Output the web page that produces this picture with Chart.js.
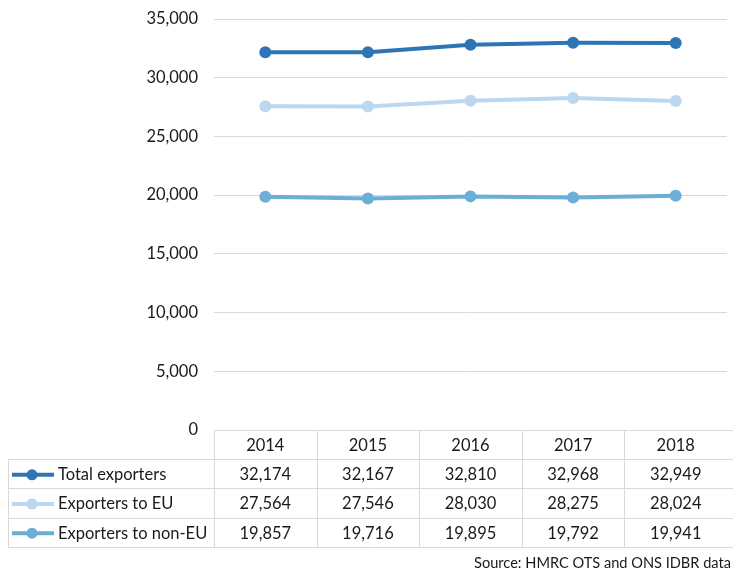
<!DOCTYPE html>
<html lang="en">
<head>
<meta charset="UTF-8">
<title>Exporters</title>
<script src="https://cdn.jsdelivr.net/npm/chart.js"></script>
<style>
  body { margin: 0; background: #fff; }
  #wrap { width: 733px; height: 569px; position: relative; }
</style>
</head>
<body>
<div id="wrap"><canvas id="chart"></canvas></div>
<script>
const years = ['2014', '2015', '2016', '2017', '2018'];
const totalExporters = [32174, 32167, 32810, 32968, 32949];
const euExporters = [27564, 27546, 28030, 28275, 28024];
const nonEuExporters = [19857, 19716, 19895, 19792, 19941];
const seriesNames = ['Total exporters', 'Exporters to EU', 'Exporters to non-EU'];
const sourceNote = 'Source: HMRC OTS and ONS IDBR data';

const colours = ['#2e75b6', '#bdd7ee', '#6baed6'];
const FONT = 'Lato, "Open Sans", sans-serif';
const TEXT = '#1a1a1a';
const fmt = v => v.toLocaleString('en-US');

// draws the data table under the plot, lined up with the x scale
const dataTable = {
  id: 'dataTable',
  afterDraw(chart) {
    const ctx = chart.ctx;
    const x = chart.scales.x;
    const area = chart.chartArea;
    const half = (x.getPixelForValue(1) - x.getPixelForValue(0)) / 2;
    const rowH = 29.2;
    const top = area.bottom;
    const left = 8;
    const right = chart.width;
    ctx.save();
    ctx.strokeStyle = '#d9d9d9';
    ctx.lineWidth = 1;

    // horizontal lines
    ctx.beginPath();
    ctx.moveTo(area.left, top + 0.5); ctx.lineTo(right, top + 0.5);
    for (let r = 1; r <= 4; r++) {
      const y = Math.round(top + r * rowH) + 0.5;
      ctx.moveTo(left, y); ctx.lineTo(right, y);
    }
    // vertical lines
    ctx.moveTo(left + 0.5, Math.round(top + rowH)); ctx.lineTo(left + 0.5, Math.round(top + 4 * rowH));
    for (let i = 0; i < years.length; i++) {
      const xl = Math.round(x.getPixelForValue(i) - half) + 0.5;
      ctx.moveTo(xl, top); ctx.lineTo(xl, Math.round(top + 4 * rowH));
    }
    ctx.stroke();

    ctx.fillStyle = TEXT;
    ctx.font = '16.5px ' + FONT;
    ctx.textBaseline = 'middle';
    ctx.textAlign = 'center';
    years.forEach((yr, i) => {
      ctx.fillText(yr, x.getPixelForValue(i), top + rowH / 2 + 1);
    });

    chart.data.datasets.forEach((ds, r) => {
      const cy = top + (r + 1.5) * rowH + 1;
      // legend key
      ctx.strokeStyle = ds.borderColor;
      ctx.lineWidth = 4;
      ctx.beginPath();
      ctx.moveTo(12, cy); ctx.lineTo(54, cy);
      ctx.stroke();
      ctx.fillStyle = ds.borderColor;
      ctx.beginPath();
      ctx.arc(32, cy, 5.5, 0, Math.PI * 2);
      ctx.fill();

      ctx.fillStyle = TEXT;
      ctx.textAlign = 'left';
      ctx.fillText(ds.label, 58, cy);
      ctx.textAlign = 'center';
      ds.data.forEach((v, i) => {
        ctx.fillText(fmt(v), x.getPixelForValue(i), cy);
      });
    });

    ctx.font = '14.6px ' + FONT;
    ctx.textAlign = 'right';
    ctx.fillText(sourceNote, 731, top + 4 * rowH + 16);
    ctx.restore();
  }
};

const seriesValues = [totalExporters, euExporters, nonEuExporters];

new Chart(document.getElementById('chart'), {
  type: 'line',
  data: {
    labels: years,
    datasets: seriesNames.map((name, i) => ({
      label: name,
      data: seriesValues[i],
      borderColor: colours[i],
      backgroundColor: colours[i],
      borderWidth: 4,
      pointRadius: 6,
      pointHoverRadius: 6,
      pointBorderWidth: 0,
      tension: 0,
      order: 3 - i
    }))
  },
  options: {
    responsive: true,
    maintainAspectRatio: false,
    animation: false,
    layout: { padding: { top: 19, right: 0, bottom: 139, left: 0 } },
    plugins: {
      legend: { display: false },
      tooltip: { enabled: false }
    },
    scales: {
      x: {
        display: false,
        offset: true
      },
      y: {
        min: 0,
        max: 35000,
        afterFit(scale) {
          scale.width = 214;
          scale.paddingTop = 0;
          scale.paddingBottom = 0;
        },
        ticks: {
          stepSize: 5000,
          padding: 16,
          color: TEXT,
          font: { family: FONT, size: 16.5 },
          callback: v => fmt(v)
        },
        grid: { color: '#d9d9d9', drawTicks: false },
        border: { display: false }
      }
    }
  },
  plugins: [dataTable]
});
</script>
</body>
</html>
